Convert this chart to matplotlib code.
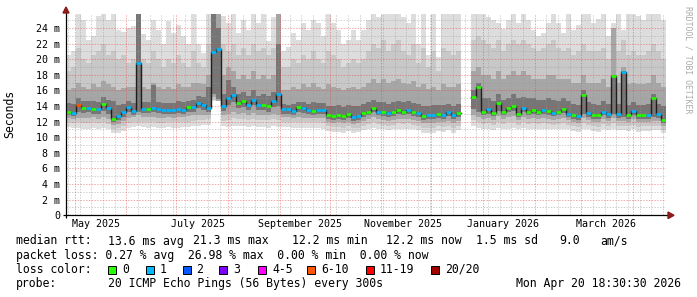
import numpy as np
import matplotlib
matplotlib.use("Agg")
import matplotlib.pyplot as plt
import matplotlib.dates as mdates
from matplotlib.patches import Polygon
from datetime import datetime, timedelta

nan = float("nan")

START = datetime(2025, 4, 25, 18, 30)
END = datetime(2026, 4, 20, 18, 30)
STEP_DAYS = 3

# median RTT per 3-day step (ms)
median = [13.3,13.1,14.1,13.7,13.8,13.6,13.6,14.3,13.7,12.4,
          12.7,13.2,13.9,13.4,19.5,13.6,13.6,13.7,13.6,13.5,
          13.5,13.5,13.6,13.5,13.9,13.9,14.4,14.1,13.7,20.9,
          21.3,14.0,15.0,15.4,14.4,14.6,14.1,14.8,14.1,14.1,
          14.0,14.7,15.6,13.6,13.6,13.4,13.9,13.7,13.5,13.4,
          13.5,13.5,12.8,12.7,12.9,12.7,13.0,12.6,12.7,13.1,
          13.3,13.8,13.3,13.2,13.1,13.2,13.5,13.3,13.5,13.2,
          13.1,12.7,12.8,12.8,13.0,12.9,13.2,12.8,13.1,nan,
          nan,15.1,16.5,13.2,13.6,13.1,14.4,13.2,13.7,14.0,
          13.0,13.7,13.2,13.5,13.2,13.5,13.4,13.1,13.2,13.6,
          13.0,12.9,12.7,15.4,13.1,12.9,12.8,13.3,13.0,17.8,
          13.0,18.4,12.9,13.4,12.8,12.9,12.9,15.0,13.0,12.2]

# lost pings (of 20) per step
loss = [0,1,6,0,1,0,1,0,1,0,
        1,1,1,1,1,1,0,1,1,1,
        1,1,1,1,0,1,1,1,1,1,
        1,1,1,1,0,0,1,1,1,0,
        0,1,1,1,1,1,0,1,1,0,
        1,1,0,0,0,0,0,1,1,0,
        0,0,1,0,1,0,0,0,1,0,
        1,0,1,1,0,1,1,1,0,0,
        0,0,0,0,1,0,0,0,0,0,
        0,1,0,0,0,1,0,1,0,0,
        1,0,1,0,1,0,0,1,1,0,
        1,1,0,1,0,0,1,0,1,0]

# smoke: ping distribution envelopes (ms)
hi = [20.6,21.0,26.0,25.0,22.5,23.0,25.5,26.0,25.0,26.0,
      23.7,23.5,24.0,24.2,26.0,23.3,22.5,25.0,23.7,22.0,
      24.9,23.4,24.4,23.0,22.0,26.0,22.0,20.8,26.0,26.0,
      26.0,25.5,24.6,26.0,23.4,25.0,23.7,26.0,24.6,26.0,
      22.3,25.4,26.0,21.0,21.6,23.4,22.5,24.6,23.7,25.0,
      24.6,23.0,26.0,24.6,23.7,22.0,22.5,23.7,22.5,23.7,
      25.0,26.0,25.4,26.0,26.0,26.0,26.0,25.4,24.6,26.0,
      22.0,26.0,20.6,26.0,20.3,26.0,26.0,26.0,26.0,nan,
      nan,26.0,26.0,26.0,25.4,25.0,24.6,23.9,25.0,26.0,
      24.6,26.0,25.0,23.7,23.0,23.4,24.6,26.0,24.6,23.4,
      26.0,23.7,24.4,26.0,26.0,24.6,25.2,26.0,23.0,24.6,
      26.0,23.7,26.0,26.0,25.5,25.0,26.0,26.0,26.0,25.0]
u1 = [18.5,19.0,21.5,20.0,19.5,20.5,21.0,22.0,20.5,21.0,
      20.0,20.5,19.5,20.0,26.0,20.0,19.5,21.0,20.0,19.0,
      20.0,19.5,20.5,19.5,19.0,21.0,19.5,19.0,22.0,26.0,
      26.0,22.0,21.0,22.0,20.5,21.5,20.5,22.0,21.0,21.5,
      20.5,21.5,22.5,19.0,19.0,20.0,19.5,20.5,20.0,21.0,
      20.0,19.5,21.0,20.5,20.0,19.0,19.5,20.0,19.5,20.0,
      21.0,22.0,21.5,22.5,21.0,22.0,22.5,21.0,20.5,22.0,
      19.5,21.5,19.0,21.0,18.5,21.5,21.0,20.5,21.0,nan,
      nan,22.5,23.0,22.5,22.0,21.5,22.5,21.0,22.0,22.5,
      22.0,22.5,22.0,21.5,21.0,21.5,22.0,22.5,21.5,21.0,
      21.5,20.5,21.0,22.0,21.0,21.0,21.0,21.5,20.0,23.0,
      21.0,22.5,20.5,21.0,20.5,20.5,21.0,22.0,21.0,20.0]
u2 = [16.0,16.3,17.0,16.5,16.2,16.8,16.5,17.2,16.8,16.5,
      16.0,16.3,16.5,16.5,26.0,16.5,16.2,17.0,16.5,16.2,
      16.5,16.2,16.8,16.5,16.5,17.0,17.0,16.8,18.0,26.0,
      26.0,18.0,19.0,18.5,17.5,18.0,17.5,18.5,17.5,18.0,
      17.5,18.0,26.0,16.0,16.0,16.5,16.2,16.8,16.5,17.0,
      16.5,16.2,16.8,16.5,16.3,16.0,16.3,16.5,16.2,16.5,
      17.0,17.5,17.0,17.5,17.0,17.2,17.5,17.0,16.8,17.2,
      16.5,16.8,16.2,16.5,16.0,16.8,16.5,16.5,16.8,nan,
      nan,18.5,19.0,18.0,18.0,17.5,18.5,17.5,18.0,18.5,
      18.0,18.5,18.0,17.5,17.5,17.5,18.0,18.0,17.5,17.5,
      17.5,17.0,17.0,18.0,17.0,17.0,17.0,17.5,16.5,24.0,
      17.0,19.0,16.8,17.0,16.8,16.8,17.0,18.0,17.0,16.5]
u3 = [14.4,14.3,15.0,14.6,14.6,14.6,14.5,15.2,14.8,14.6,
      14.2,14.3,14.6,14.4,26.0,14.5,14.5,16.7,14.5,14.4,
      14.4,14.4,14.6,14.5,14.7,14.8,15.3,15.1,16.5,26.0,
      24.0,15.5,17.3,16.5,15.5,15.8,15.3,16.0,15.3,15.5,
      15.3,15.8,22.0,14.3,14.2,14.3,14.5,14.5,14.3,14.5,
      14.4,14.4,14.0,14.0,14.1,13.9,14.2,14.0,14.0,14.3,
      14.5,14.8,14.5,14.5,14.3,14.5,14.7,14.5,14.6,14.4,
      14.3,14.0,14.0,14.1,14.2,14.1,14.3,14.0,14.3,nan,
      nan,16.0,17.0,15.0,15.0,14.7,15.5,14.8,15.0,15.5,
      15.0,15.2,15.0,15.0,14.8,14.8,15.0,14.8,14.7,15.0,
      14.6,14.3,14.2,16.0,14.5,14.3,14.2,14.6,14.3,18.0,
      14.3,18.5,14.2,14.5,14.2,14.2,14.3,15.5,14.3,14.0]
l4 = [12.9,12.7,13.2,13.1,13.2,13.0,13.0,13.4,13.0,11.9,
      12.2,12.6,13.2,12.9,13.3,13.1,13.1,13.2,13.1,13.0,
      13.0,13.0,13.1,13.0,13.3,13.3,13.8,13.5,13.2,15.5,
      14.9,13.4,14.2,14.5,13.8,13.9,13.5,14.1,13.5,13.5,
      13.2,13.9,14.0,13.0,13.0,12.9,13.3,13.1,13.0,12.9,
      13.0,13.0,12.3,12.2,12.4,12.2,12.5,12.1,12.2,12.6,
      12.8,13.3,12.8,12.7,12.6,12.7,13.0,12.8,13.0,12.7,
      12.6,12.2,12.3,12.3,12.5,12.4,12.7,12.3,12.6,nan,
      nan,13.6,13.2,12.8,13.0,12.7,13.4,12.8,13.2,13.4,
      12.6,13.2,12.8,13.0,12.8,13.0,12.9,12.7,12.8,13.1,
      12.6,12.4,12.2,13.0,12.6,12.4,12.3,12.8,12.5,13.0,
      12.5,12.6,12.4,12.8,12.3,12.4,12.4,12.6,12.5,11.8]
l3 = [12.5,12.4,12.5,12.5,12.5,12.6,12.4,12.6,12.4,11.6,
      11.7,12.1,12.5,12.6,12.8,12.6,12.6,12.6,12.5,12.5,
      12.6,12.5,12.6,12.6,12.7,12.8,12.9,12.9,12.9,15.1,
      14.7,12.8,13.0,13.3,13.0,13.1,12.9,13.1,12.9,12.9,
      12.8,13.0,12.8,12.6,12.6,12.5,12.6,12.5,12.5,12.5,
      12.5,12.5,11.9,11.8,11.9,11.8,12.0,11.7,11.8,12.1,
      12.3,12.6,12.3,12.2,12.1,12.2,12.4,12.3,12.4,12.2,
      12.1,11.8,11.8,11.8,12.0,11.9,12.1,11.8,12.1,nan,
      nan,12.9,12.6,12.3,12.5,12.2,12.7,12.3,12.6,12.7,
      12.2,12.6,12.3,12.5,12.3,12.5,12.4,12.2,12.3,12.5,
      12.2,12.0,11.8,12.5,12.2,12.0,11.9,12.3,12.1,12.5,
      12.1,12.1,12.0,12.3,11.9,12.0,12.0,12.1,12.1,11.4]
l2 = [11.9,11.8,11.9,11.8,11.8,11.9,11.8,11.9,11.7,11.1,
      11.2,11.4,11.8,11.9,12.0,11.9,11.9,11.9,11.8,11.8,
      11.9,11.9,11.9,12.0,12.0,12.1,12.2,12.2,12.3,14.8,
      14.6,12.1,12.2,12.5,12.3,12.3,12.2,12.3,12.2,12.2,
      12.2,12.3,12.2,12.0,12.0,11.9,11.9,11.9,11.9,11.9,
      11.9,11.8,11.4,11.3,11.3,11.2,11.4,11.2,11.2,11.5,
      11.7,11.9,11.7,11.6,11.5,11.6,11.8,11.7,11.8,11.6,
      11.5,11.2,11.2,11.2,11.4,11.3,11.5,11.2,11.5,nan,
      nan,12.2,12.0,11.7,11.8,11.6,12.0,11.7,11.9,12.0,
      11.6,11.9,11.7,11.8,11.7,11.8,11.7,11.6,11.7,11.8,
      11.6,11.4,11.3,11.8,11.6,11.4,11.3,11.7,11.5,11.8,
      11.5,11.5,11.4,11.6,11.3,11.4,11.4,11.5,11.5,10.9]
lo = [11.3,11.2,11.2,11.0,11.1,11.2,11.1,11.2,11.0,10.5,
      10.6,10.8,11.2,11.3,11.5,11.3,11.2,11.3,11.2,11.2,
      11.3,11.2,11.2,11.3,11.3,11.4,11.5,11.6,11.6,14.6,
      14.6,11.4,11.3,11.5,11.4,11.5,11.3,11.4,11.3,11.3,
      11.2,11.4,11.3,11.3,11.3,11.2,11.2,11.2,11.2,11.2,
      11.2,11.1,10.8,10.7,10.7,10.6,10.8,10.6,10.7,10.9,
      11.0,11.2,11.0,11.0,10.9,11.0,11.1,11.0,11.1,11.0,
      10.9,10.6,10.6,10.6,10.8,10.7,10.9,10.6,10.9,nan,
      nan,11.4,11.2,11.0,11.1,10.9,11.2,11.0,11.1,11.2,
      11.0,11.2,11.0,11.1,11.0,11.1,11.0,11.0,11.0,11.1,
      11.0,10.8,10.7,11.1,11.0,10.8,10.7,11.0,10.9,11.1,
      10.9,10.9,10.8,11.0,10.7,10.8,10.8,10.9,10.9,10.5]

y_ticks = [0, 2, 4, 6, 8, 10, 12, 14, 16, 18, 20, 22, 24]
y_labels = ["0", "2 m", "4 m", "6 m", "8 m", "10 m", "12 m", "14 m",
            "16 m", "18 m", "20 m", "22 m", "24 m"]
x_label_dates = [datetime(2025, 5, 14), datetime(2025, 7, 14), datetime(2025, 9, 13),
                 datetime(2025, 11, 14), datetime(2026, 1, 13), datetime(2026, 3, 16)]
x_labels = ["May 2025", "July 2025", "September 2025", "November 2025",
            "January 2026", "March 2026"]

loss_bins = [(0, "#26ff00", "0"), (1, "#00b8ff", "1"), (2, "#0059ff", "2"),
             (3, "#7e00ff", "3"), (5, "#ff00ff", "4-5"), (10, "#ff5500", "6-10"),
             (19, "#ff0000", "11-19"), (20, "#a00000", "20/20")]

def loss_color(n):
    for lim, c, _ in loss_bins:
        if n <= lim:
            return c
    return loss_bins[-1][1]

W, H = 697, 297
fig = plt.figure(figsize=(W / 100, H / 100), dpi=100)
fig.patch.set_facecolor("white")
AX_L, AX_R, AX_B, AX_T = 66, 666, 215.3, 14.0
ax = fig.add_axes([AX_L / W, 1 - AX_B / H, (AX_R - AX_L) / W, (AX_B - AX_T) / H])
ax.set_facecolor("white")
YMAX = 25.8
x0 = mdates.date2num(START)
x1 = mdates.date2num(END)
ax.set_xlim(x0, x1)
ax.set_ylim(0, YMAX)

n = len(median)
xl = np.array([x0 + STEP_DAYS * k for k in range(n)])
arr = lambda a: np.array(a, dtype=float)

def band(lower, upper, color, z):
    lower, upper = arr(lower), arr(upper)
    ok = np.isfinite(lower) & np.isfinite(upper)
    ax.bar(xl[ok], (upper - lower)[ok], bottom=lower[ok], width=STEP_DAYS,
           align="edge", color=color, linewidth=0, antialiased=False, zorder=z)

band(lo, hi, "#dddddd", 1)
band(l2, u1, "#c8c8c8", 2)
band(l3, u2, "#a6a6a6", 3)
band(l4, u3, "#767676", 4)

# grid (dotted)
dot = (0, (1.4, 1.4))
red = (0.9, 0.25, 0.25, 0.45)
gray = (0.6, 0.6, 0.6, 0.45)
for yv in range(1, 26):
    ax.axhline(yv, color=red if yv % 2 == 0 else gray, lw=0.72, ls=dot, zorder=5)
d = datetime(2025, 4, 27)
while d < END:
    if d.day != 1:
        ax.axvline(mdates.date2num(d), color=gray, lw=0.72, ls=dot, zorder=5)
    d += timedelta(days=7)
for m in range(12):
    yr = 2025 + (4 + m) // 12
    mo = (4 + m) % 12 + 1
    md = datetime(yr, mo, 1)
    if START < md < END:
        ax.axvline(mdates.date2num(md), color=red, lw=0.72, ls=dot, zorder=5)

# median line
med = arr(median)
xe = np.append(xl, xl[-1] + STEP_DAYS)
ax.step(xe, np.append(med, med[-1]), where="post", color="#1e1e1e", lw=1.0, zorder=6)
cols = [loss_color(v) for v in loss]
ok = np.isfinite(med)
ax.hlines(med[ok], xl[ok], xl[ok] + STEP_DAYS, colors=[c for c, o in zip(cols, ok) if o],
          lw=1.9, zorder=7, capstyle="butt")

for s in ax.spines.values():
    s.set_visible(False)

mono = "DejaVu Sans Mono"
ax.set_yticks(y_ticks)
ax.set_yticklabels(y_labels, family=mono, fontsize=7.2)
ax.set_xticks([mdates.date2num(d) for d in x_label_dates])
ax.set_xticklabels(x_labels, family=mono, fontsize=7.2)
ax.tick_params(axis="y", length=0, pad=4.3)
ax.tick_params(axis="x", length=0, pad=3.0)

# axes lines and arrows (pixel helpers)
def ax_pt(px, py):
    return ((px - AX_L) / (AX_R - AX_L), (AX_B - py) / (AX_B - AX_T))

for (a, b) in [((63, 215.3), (670, 215.3)), ((66, 218), (66, 11))]:
    p, q = ax_pt(*a), ax_pt(*b)
    ax.plot([p[0], q[0]], [p[1], q[1]], color="black", lw=0.9, transform=ax.transAxes,
            clip_on=False, zorder=8, solid_capstyle="butt")
arrow_c = "#8b1a1a"
ax.add_patch(Polygon([ax_pt(668, 212), ax_pt(668, 218.6), ax_pt(674, 215.3)], closed=True,
                     transform=ax.transAxes, clip_on=False, color=arrow_c, zorder=9))
ax.add_patch(Polygon([ax_pt(63, 13), ax_pt(69, 13), ax_pt(66, 7)], closed=True,
                     transform=ax.transAxes, clip_on=False, color=arrow_c, zorder=9))

def ftext(px, py, s, **kw):
    kw.setdefault("family", mono)
    kw.setdefault("fontsize", 8.3)
    kw.setdefault("va", "center")
    fig.text(px / W, 1 - py / H, s, **kw)

ftext(10, 114, "Seconds", rotation=90, ha="center")
ftext(688, 60, "RRDTOOL / TOBI OETIKER", rotation=-90, ha="center", fontsize=5.9, color="#aaaaaa")

row1 = [(16, "median rtt:"), (108, "13.6 ms avg"), (193, "21.3 ms max"), (292, "12.2 ms min"),
        (386, "12.2 ms now"), (476, "1.5 ms sd"), (559, "9.0"), (600, "am/s")]
for px, s in row1:
    ftext(px, 241, s)
ftext(16, 255, "packet loss: 0.27 % avg  26.98 % max  0.00 % min  0.00 % now")
ftext(16, 269.5, "loss color:")
box_x = [108, 146, 182.5, 219.3, 258, 307.3, 365.7, 430.7]
for bx, (lim, c, lab) in zip(box_x, loss_bins):
    fig.patches.append(plt.Rectangle((bx / W, 1 - 273.5 / H), 8 / W, 8 / H, transform=fig.transFigure,
                                     facecolor=c, edgecolor="black", lw=0.7, figure=fig))
    ftext(bx + 14, 269.5, lab)
ftext(16, 284, "probe:")
ftext(108, 284, "20 ICMP Echo Pings (56 Bytes) every 300s")
ftext(681, 284, "Mon Apr 20 18:30:30 2026", ha="right")

fig.savefig("out.png", dpi=100, facecolor="white")
